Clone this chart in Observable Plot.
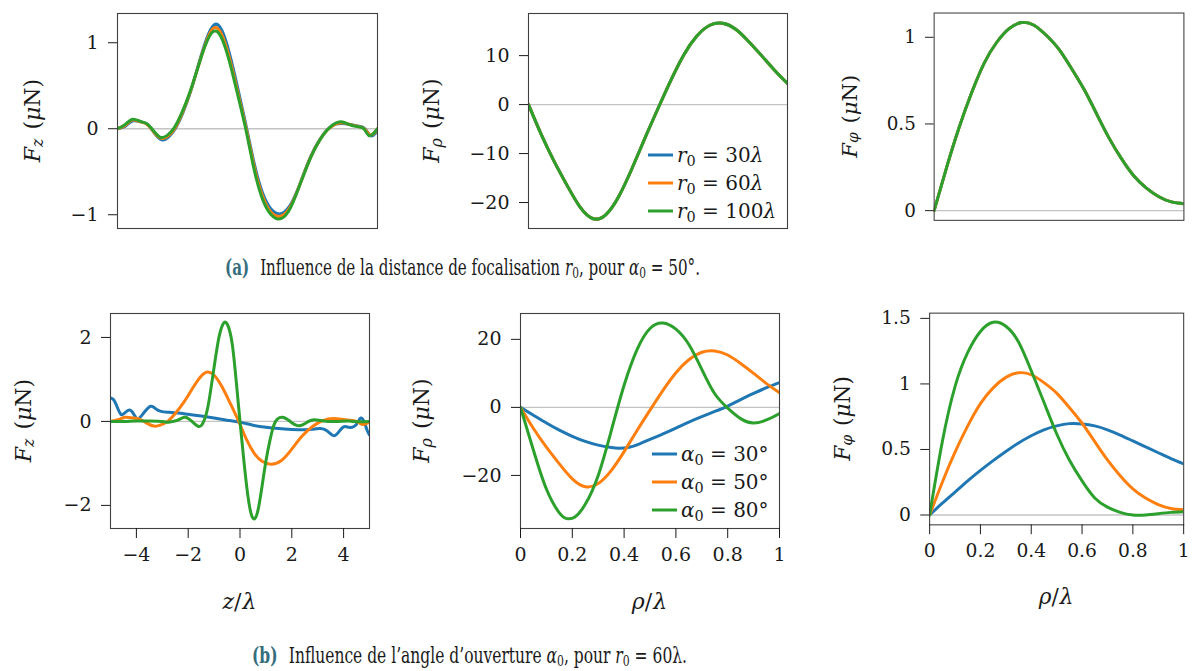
<!DOCTYPE html>
<html><head><meta charset="utf-8">
<script src="https://cdn.jsdelivr.net/npm/d3@7"></script>
<script src="https://cdn.jsdelivr.net/npm/@observablehq/plot@0.6"></script>
<style>
html,body{margin:0;padding:0;background:#fff;}
#fig{position:relative;width:1195px;height:671px;overflow:hidden;font-family:"DejaVu Serif","Liberation Serif",serif;color:#1a1a1a;}
.panel{position:absolute;}
.cap{position:absolute;white-space:nowrap;font-size:22px;line-height:24px;transform-origin:0 0;}
.cap b{color:#346e7d;margin-right:16px;}
.cap sub{font-size:0.7em;vertical-align:-0.18em;line-height:0;}
</style></head><body><div id="fig"></div>
<script>
// ---------- series labels, colours, ticks ----------
const seriesR = ["r30", "r60", "r100"];
const seriesA = ["a30", "a50", "a80"];
const legendR = ["30", "60", "100"];
const legendA = ["30°", "50°", "80°"];
const colors = ["#1f77b4", "#ff7f0e", "#2ca02c"];
const ticksFzA = [-1, 0, 1];
const ticksFrhoA = [-20, -10, 0, 10];
const ticksFphiA = [0, 0.5, 1];
const ticksFzB = [-2, 0, 2];
const ticksFrhoB = [-20, 0, 20];
const ticksFphiB = [0, 0.5, 1, 1.5];
const ticksZ = [-4, -2, 0, 2, 4];
const ticksRho = [0, 0.2, 0.4, 0.6, 0.8, 1];

// ---------- (a) r0 varies, alpha0 = 50° : F_z(z) ----------
const fzA_r30 = [[-5,0],[-4.7,0.03],[-4.43,0.09],[-4.1,0.08],[-3.84,0.05],[-3.58,-0.05],[-3.3,-0.13],[-3.05,-0.1],[-2.78,0.0],[-2.48,0.19],[-2.18,0.44],[-1.88,0.75],[-1.58,1.04],[-1.28,1.21],[-0.98,1.14],[-0.68,0.86],[-0.38,0.48],[-0.03,0],[0.27,-0.42],[0.57,-0.74],[0.87,-0.92],[1.22,-0.99],[1.62,-0.9],[2.02,-0.64],[2.42,-0.33],[2.82,-0.11],[3.22,0.03],[3.62,0.06],[3.94,0.05],[4.26,0.03],[4.52,0.0],[4.72,-0.08],[4.9,-0.06],[5,-0.01]];
const fzA_r60 = [[-5,0],[-4.7,0.04],[-4.43,0.1],[-4.12,0.08],[-3.86,0.05],[-3.6,-0.04],[-3.33,-0.11],[-3.08,-0.09],[-2.8,0.0],[-2.5,0.19],[-2.2,0.43],[-1.9,0.72],[-1.6,1.0],[-1.3,1.17],[-1.0,1.1],[-0.7,0.83],[-0.4,0.46],[-0.05,0],[0.25,-0.43],[0.55,-0.76],[0.85,-0.95],[1.2,-1.02],[1.6,-0.93],[2.0,-0.66],[2.4,-0.35],[2.8,-0.12],[3.2,0.02],[3.6,0.07],[3.92,0.05],[4.24,0.03],[4.5,0.0],[4.7,-0.07],[4.88,-0.05],[5,0]];
const fzA_r100 = [[-5,0],[-4.7,0.05],[-4.43,0.11],[-4.12,0.085],[-3.86,0.055],[-3.6,-0.03],[-3.35,-0.1],[-3.1,-0.08],[-2.82,0.01],[-2.52,0.19],[-2.22,0.42],[-1.92,0.7],[-1.62,0.97],[-1.32,1.13],[-1.02,1.07],[-0.72,0.81],[-0.42,0.45],[-0.07,0],[0.23,-0.44],[0.53,-0.78],[0.83,-0.97],[1.18,-1.05],[1.58,-0.96],[1.98,-0.68],[2.38,-0.37],[2.78,-0.13],[3.18,0.02],[3.58,0.08],[3.9,0.05],[4.22,0.025],[4.47,0.0],[4.67,-0.08],[4.86,-0.05],[5,0]];

// ---------- F_rho(rho), alpha0 = 50° (curves for r0 overlap) ----------
const frho_a50 = [[0,0],[0.05,-6.2],[0.1,-11.7],[0.15,-16.6],[0.2,-21.0],[0.25,-23.3],[0.3,-22.4],[0.35,-18.6],[0.4,-13.0],[0.45,-6.8],[0.5,-0.8],[0.55,5.0],[0.6,10.2],[0.65,14.0],[0.7,16.2],[0.75,16.6],[0.8,15.4],[0.85,12.9],[0.9,10.0],[0.95,7.0],[1.0,4.3]];
const frhoA_r30 = frho_a50, frhoA_r60 = frho_a50, frhoA_r100 = frho_a50;

// ---------- F_phi(rho), alpha0 = 50° ----------
const fphi_a50 = [[0,0],[0.05,0.25],[0.1,0.48],[0.15,0.68],[0.2,0.85],[0.25,0.97],[0.3,1.05],[0.35,1.085],[0.4,1.07],[0.45,1.01],[0.5,0.93],[0.55,0.82],[0.6,0.7],[0.65,0.56],[0.7,0.42],[0.75,0.3],[0.8,0.2],[0.85,0.13],[0.9,0.08],[0.95,0.05],[1.0,0.04]];
const fphiA_r30 = fphi_a50, fphiA_r60 = fphi_a50, fphiA_r100 = fphi_a50;

// ---------- (b) alpha0 varies, r0 = 60λ ----------
const fzB_a30 = [[-5,0.56],[-4.9,0.53],[-4.78,0.4],[-4.6,0.17],[-4.42,0.22],[-4.24,0.27],[-4.08,0.15],[-3.94,0.06],[-3.72,0.2],[-3.45,0.36],[-3.25,0.3],[-3.05,0.24],[-2.8,0.22],[-2.4,0.2],[-2.0,0.17],[-1.5,0.13],[-1.0,0.08],[-0.5,0.03],[0,-0.02],[0.5,-0.09],[1.0,-0.14],[1.5,-0.17],[2.0,-0.19],[2.5,-0.2],[2.9,-0.18],[3.1,-0.17],[3.3,-0.2],[3.45,-0.27],[3.62,-0.34],[3.8,-0.26],[4.0,-0.13],[4.2,-0.14],[4.4,-0.12],[4.55,-0.02],[4.66,0.08],[4.8,-0.02],[4.9,-0.2],[5,-0.32]];
const fzB_a50 = fzA_r60;
const fzB_a80 = [[-5,0],[-4.5,0.0],[-4,0.01],[-3.5,0.01],[-3.0,0.0],[-2.8,-0.02],[-2.6,0.0],[-2.4,0.03],[-2.15,0.1],[-1.95,0.05],[-1.8,-0.03],[-1.6,-0.12],[-1.45,-0.06],[-1.33,0.12],[-1.2,0.48],[-1.0,1.29],[-0.82,1.98],[-0.67,2.3],[-0.55,2.36],[-0.42,2.2],[-0.29,1.8],[-0.16,1.05],[0,0],[0.15,-0.94],[0.3,-1.75],[0.43,-2.2],[0.56,-2.32],[0.7,-2.1],[0.85,-1.55],[1.0,-0.95],[1.15,-0.47],[1.3,-0.1],[1.45,0.06],[1.64,0.1],[1.85,0.04],[2.0,-0.03],[2.22,-0.1],[2.45,-0.07],[2.65,0.0],[2.86,0.04],[3.1,0.02],[3.4,0.0],[3.8,0.0],[4.2,0.01],[4.6,-0.01],[5,0]];

const frhoB_a30 = [[0,0],[0.05,-2.3],[0.1,-4.6],[0.15,-6.7],[0.2,-8.5],[0.25,-10.0],[0.3,-11.1],[0.35,-11.8],[0.38,-12.0],[0.42,-11.7],[0.46,-10.7],[0.5,-9.4],[0.55,-7.8],[0.6,-6.1],[0.65,-4.3],[0.7,-2.7],[0.75,-1.2],[0.8,0.4],[0.85,2.3],[0.9,4.1],[0.95,5.8],[1.0,7.3]];
const frhoB_a50 = frho_a50;
const frhoB_a80 = [[0,0],[0.05,-12.6],[0.1,-24.0],[0.15,-31.0],[0.18,-32.7],[0.21,-32.2],[0.25,-28.5],[0.3,-20.0],[0.35,-7.0],[0.4,6.5],[0.45,17.0],[0.5,23.2],[0.55,24.8],[0.6,23.0],[0.65,18.5],[0.7,11.2],[0.75,4.0],[0.8,-0.2],[0.85,-3.3],[0.9,-4.6],[0.95,-3.7],[1.0,-1.8]];

const fphiB_a30 = [[0,0],[0.05,0.09],[0.1,0.175],[0.15,0.26],[0.2,0.34],[0.25,0.415],[0.3,0.485],[0.35,0.55],[0.4,0.605],[0.45,0.65],[0.5,0.68],[0.55,0.697],[0.6,0.695],[0.65,0.68],[0.7,0.65],[0.75,0.61],[0.8,0.565],[0.85,0.52],[0.9,0.475],[0.95,0.43],[1.0,0.39]];
const fphiB_a50 = fphi_a50;
const fphiB_a80 = [[0,0],[0.05,0.56],[0.1,0.98],[0.15,1.24],[0.2,1.4],[0.25,1.47],[0.3,1.44],[0.35,1.32],[0.4,1.1],[0.45,0.86],[0.5,0.62],[0.55,0.42],[0.6,0.26],[0.65,0.13],[0.7,0.06],[0.75,0.02],[0.8,0.0],[0.85,0.0],[0.9,0.01],[0.95,0.02],[1.0,0.025]];

// ---------- layout ----------
const FONT = "'DejaVu Serif', 'Liberation Serif', serif";
const FS_TICK = 19, FS_LAB = 22, FS_LEG = 20;
const panels = [
  {frame:[117,13,377,228], top:0, h:240, x:[-5,5], y:[-1.16,1.34], yt:ticksFzA, xt:null, s:seriesR, d:[fzA_r30,fzA_r60,fzA_r100], sub:"z", lo:85},
  {frame:[528,13,787,228], top:0, h:240, x:[0,1], y:[-25.3,18.6], yt:ticksFrhoA, xt:null, s:seriesR, d:[frhoA_r30,frhoA_r60,frhoA_r100], sub:"ρ", lo:97, leg:{sym:"r", vals:legendR, lam:true, dx:139, rows:[73,45,17]}},
  {frame:[938,13,1197,228], top:0, h:240, x:[0,1], y:[-0.056,1.14], yt:ticksFphiA, xt:null, s:seriesR, d:[fphiA_r30,fphiA_r60,fphiA_r100], sub:"φ", lo:88},
  {frame:[110,313,369,528], top:290, h:340, x:[-5,5], y:[-2.55,2.57], yt:ticksFzB, xt:ticksZ, xl:"z", s:seriesA, d:[fzB_a30,fzB_a50,fzB_a80], sub:"z", lo:87},
  {frame:[520,313,779,528], top:290, h:340, x:[0,1], y:[-35.6,27.6], yt:ticksFrhoB, xt:ticksRho, xl:"ρ", s:seriesA, d:[frhoB_a30,frhoB_a50,frhoB_a80], sub:"ρ", lo:99, leg:{sym:"α", vals:legendA, lam:false, dx:127, rows:[74,46,18]}},
  {frame:[931,313,1189,528], top:290, h:340, x:[0,1], y:[-0.075,1.54], yt:ticksFphiB, xt:ticksRho, xl:"ρ", s:seriesA, d:[fphiB_a30,fphiB_a50,fphiB_a80], sub:"φ", lo:88}
];

const fmt = v => (v < 0 ? "\u2212" + Math.abs(v) : String(v));

function rich(text, parts, fs) {
  let shifted = false;
  for (const p of parts) {
    const [t, st, dx] = p;
    const ts = text.append("tspan").text(t);
    if (dx) ts.attr("dx", dx);
    if (st.includes("i")) ts.attr("font-style", "italic");
    if (st.includes("s")) {
      ts.attr("font-size", fs * 0.72);
      if (!shifted) ts.attr("dy", fs * 0.22);
      shifted = true;
    } else if (shifted) {
      ts.attr("dy", -fs * 0.22);
      shifted = false;
    }
  }
}

const fig = document.getElementById("fig");
for (const P of panels) {
  const [L, T, R, B] = P.frame;
  const left = L - 122;
  const width = R - left + 12;
  const mL = L - left, mT = T - P.top, mR = width - (R - left), mB = P.h - (B - P.top);
  const rows = [];
  P.d.forEach((arr, k) => arr.forEach(([x, y]) => rows.push({x, y, s: P.s[k]})));
  const marks = [
    Plot.ruleY([0], {stroke: "#c4c4c4", strokeWidth: 1.3}),
    Plot.line(rows, {x: "x", y: "y", z: "s", stroke: "s", strokeWidth: 3, curve: "natural", clip: true}),
    Plot.frame({stroke: "#404040", strokeWidth: 1.1}),
    Plot.axisY({ticks: P.yt, tickSize: 9, tickPadding: 10, tickFormat: fmt, label: null})
  ];
  if (P.xt) marks.push(Plot.axisX({ticks: P.xt, tickSize: 10, tickPadding: 9, tickFormat: fmt, label: null}));
  const svg = Plot.plot({
    width, height: P.h,
    marginLeft: mL, marginTop: mT, marginRight: mR, marginBottom: mB,
    x: {domain: P.x, axis: P.xt ? undefined : null},
    y: {domain: P.y},
    color: {domain: P.s, range: colors},
    style: {fontFamily: FONT, fontSize: FS_TICK + "px", color: "#1a1a1a", background: "transparent", overflow: "visible"},
    marks
  });
  const s = d3.select(svg);
  // y label
  const yl = s.append("text")
    .attr("transform", `translate(${mL - P.lo},${mT + (B - T) / 2}) rotate(-90)`)
    .attr("text-anchor", "middle").attr("dominant-baseline", "central")
    .attr("font-size", FS_LAB).attr("fill", "#1a1a1a").attr("font-family", FONT);
  rich(yl, [["F", "i"], [P.sub, "si"], ["(", "", 9], ["μ", "i"], ["N)", ""]], FS_LAB);
  // x label
  if (P.xl) {
    const xl = s.append("text")
      .attr("x", mL + (R - L) / 2).attr("y", mT + (B - T) + 81)
      .attr("text-anchor", "middle").attr("font-size", FS_LAB).attr("fill", "#1a1a1a")
      .attr("font-family", FONT);
    rich(xl, [[P.xl, "i"], ["/", ""], ["λ", "i", 1]], FS_LAB);
  }
  // legend
  if (P.leg) {
    const g = s.append("g").attr("font-family", FONT).attr("font-size", FS_LEG)
      .attr("fill", "#1a1a1a").attr("text-anchor", "start");
    P.leg.rows.forEach((ry, k) => {
      const yy = mT + (B - T) - ry;
      const x0 = mL + (R - L) - P.leg.dx;
      g.append("line").attr("x1", x0).attr("x2", x0 + 25).attr("y1", yy).attr("y2", yy)
        .attr("stroke", colors[k]).attr("stroke-width", 3);
      const t = g.append("text").attr("x", x0 + 29).attr("y", yy + 7).attr("text-anchor", "start");
      const parts = [[P.leg.sym, "i"], ["0", "s"], [" = " + P.leg.vals[k], ""]];
      if (P.leg.lam) parts.push(["λ", "i"]);
      rich(t, parts, FS_LEG);
    });
  }
  const div = document.createElement("div");
  div.className = "panel";
  div.style.left = left + "px";
  div.style.top = P.top + "px";
  div.appendChild(svg);
  fig.appendChild(div);
}

// captions
function caption(html, left, top, targetW) {
  const d = document.createElement("div");
  d.className = "cap";
  d.innerHTML = html;
  d.style.left = left + "px";
  d.style.top = top + "px";
  fig.appendChild(d);
  const w = d.getBoundingClientRect().width;
  d.style.transform = `scaleX(${targetW / w})`;
}
caption('<b>(a)</b>Influence de la distance de focalisation <i>r</i><sub>0</sub>, pour <i>α</i><sub>0</sub> = 50°.', 225, 255, 475);
caption('<b>(b)</b>Influence de l’angle d’ouverture <i>α</i><sub>0</sub>, pour <i>r</i><sub>0</sub> = 60λ.', 252, 643, 435);
</script></body></html>
